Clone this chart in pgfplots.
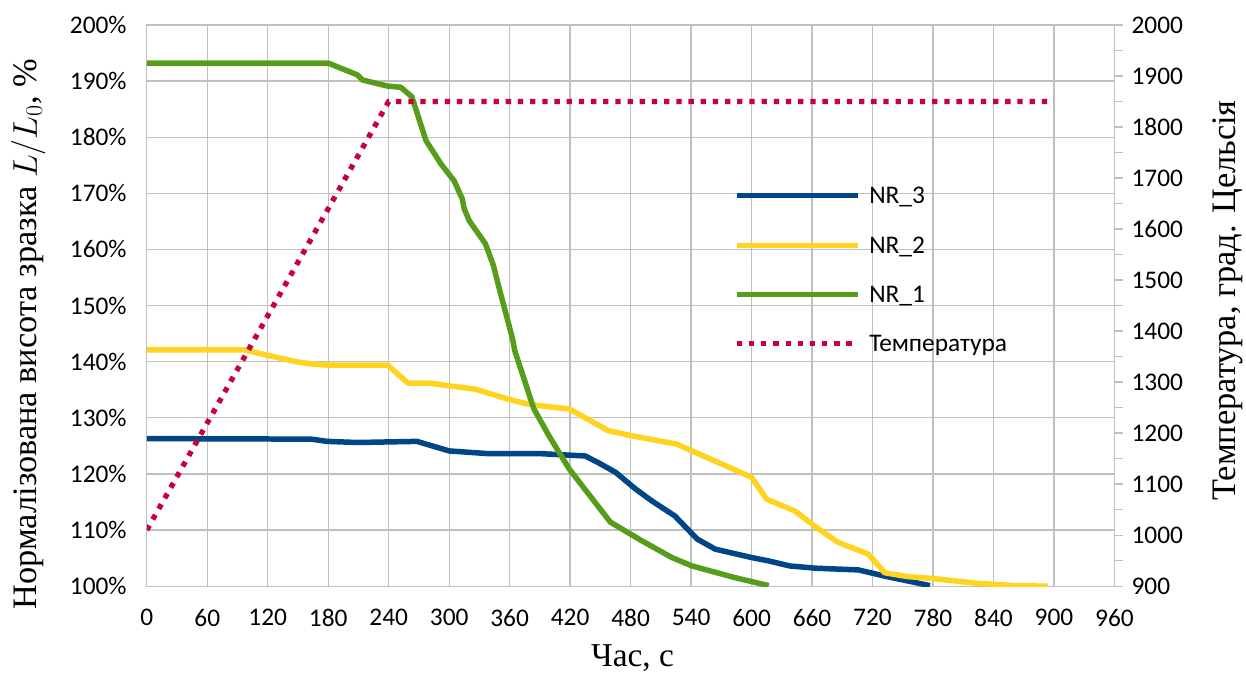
\RequirePackage{fix-cm}
\documentclass[border=0pt]{standalone}
\usepackage{fontspec}
\setmainfont{Liberation Serif}
\newfontfamily\calibri{Carlito}
\usepackage{pgfplots}
\pgfplotsset{compat=1.18}
\definecolor{cBlue}{HTML}{004586}
\definecolor{cYellow}{HTML}{FFD320}
\definecolor{cGreen}{HTML}{579D1C}
\definecolor{cRed}{HTML}{C8003C}
\definecolor{cGrid}{HTML}{C0C0C0}
\newcommand{\tickfont}{\calibri\fontsize{25.5}{30}\selectfont}
\newcommand{\labfont}{\fontsize{34.5}{41}\selectfont}
\begin{document}
\begin{tikzpicture}
\begin{axis}[
 at={(0,0)}, anchor=south west,
 width=969bp, height=562bp, scale only axis,
 xmin=0, xmax=960, ymin=100, ymax=200,
 xtick={0,60,...,960}, ytick={100,110,...,200},
 xticklabels={0,60,120,180,240,300,360,420,480,540,600,660,720,780,840,900,960},
 yticklabels={100\%,110\%,120\%,130\%,140\%,150\%,160\%,170\%,180\%,190\%,200\%},
 grid=major, grid style={draw=cGrid, line width=1.3bp},
 axis line style={draw=cGrid, line width=1.3bp},
 major tick length=0pt,
 tick label style={font=\tickfont, inner sep=0pt},
 yticklabel style={anchor=east, xshift=-20bp},
 xticklabel style={anchor=north, yshift=-23bp},
 xlabel={Час, с},
 ylabel={Нормалізована висота зразка $L/L_0$, \%},
 label style={font=\labfont},
 xlabel style={font=\fontsize{33.5}{40}\selectfont, at={(axis description cs:0.502,-0.1423)}, anchor=base},
 ylabel style={at={(axis description cs:-0.1135,0.449)}, anchor=base},
]
\addplot[cBlue, line width=5.5bp, line join=round] coordinates {
(0,126.3) (163,126.2) (179,125.8) (209,125.6) (268,125.8) (300,124.1) (340,123.6) (392,123.6) (435,123.2) (448,122.0) (465,120.3) (485,117.3) (501,115.2) (524,112.5) (546,108.4) (564,106.6) (600,105.1) (617,104.5) (638,103.6) (664,103.2) (706,102.9) (732,101.8) (777,100.1)
};
\addplot[cYellow, line width=5.5bp, line join=round] coordinates {
(0,142.1) (97,142.1) (118,141.2) (151,139.9) (163,139.6) (179,139.4) (239,139.4) (259,136.2) (280,136.2) (300,135.7) (326,135.1) (359,133.3) (379,132.4) (402,131.9) (419,131.6) (458,127.7) (481,126.8) (526,125.3) (541,124.1) (600,119.4) (615,115.5) (643,113.4) (664,110.5) (686,107.8) (716,105.7) (732,102.4) (755,101.7) (778,101.4) (824,100.5) (861,100.1) (894,100.0)
};
\addplot[cGreen, line width=5.5bp, line join=round] coordinates {
(0,193.2) (180,193.2) (209,191.1) (214,190.2) (239,189.1) (252,188.9) (263,187.2) (277,179.4) (292,175.2) (305,172.2) (313,169.0) (315,167.2) (320,165.1) (336,161.0) (344,157.1) (349,153.5) (363,144.0) (365,142.0) (384,131.6) (399,126.8) (419,120.9) (460,111.4) (491,108.1) (521,105.1) (541,103.6) (584,101.5) (617,100.1)
};
\end{axis}
\begin{axis}[
 at={(0,0)}, anchor=south west,
 width=969bp, height=562bp, scale only axis,
 xmin=0, xmax=960, ymin=900, ymax=2000,
 axis x line=none, axis y line*=right,
 ytick={900,1000,...,2000}, minor ytick={950,1050,...,1950},
 yticklabels={900,1000,1100,1200,1300,1400,1500,1600,1700,1800,1900,2000},
 tick align=outside, major tick length=9bp, minor tick length=9bp,
 tick style={draw=cGrid, line width=1.3bp},
 axis line style={draw=cGrid, line width=1.3bp},
 tick label style={font=\tickfont, inner sep=0pt},
 yticklabel style={anchor=west, xshift=8bp},
 ylabel={Температура, град. Цельсія},
 ylabel style={font=\labfont, at={(axis description cs:1.1249,0.509)}, anchor=base},
 legend style={at={(axis description cs:0.6068,0.7135)}, anchor=north west,
   draw=none, fill=none, inner sep=0pt, font=\tickfont,
   row sep=29.3bp, column sep=9bp,
   nodes={inner sep=0pt, text height=18bp, text depth=2bp}},
 legend cell align=left,
 legend image code/.code={\draw[#1] (0bp,0bp) -- (121bp,0bp);},
]
\addlegendimage{cBlue, line width=5bp}
\addlegendentry{NR\_3}
\addlegendimage{cYellow, line width=5bp}
\addlegendentry{NR\_2}
\addlegendimage{cGreen, line width=5bp}
\addlegendentry{NR\_1}
\addplot[cRed, line width=5.3bp, dash pattern=on 5.3bp off 6.9bp] coordinates {
(0,1010) (240,1850) (900,1850)
};
\addlegendentry{Температура}
\end{axis}
\path[use as bounding box] (-147bp,-86bp) rectangle (1099bp,587bp);
\end{tikzpicture}
\end{document}
